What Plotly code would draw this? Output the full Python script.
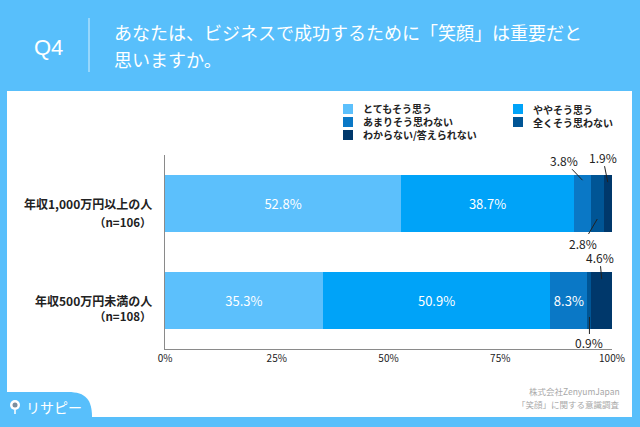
import plotly.graph_objects as go

# ---------------- data ----------------
categories = ["年収1,000万円以上の人", "年収500万円未満の人"]
sample_sizes = ["（n=106）", "（n=108）"]
series_names = ["とてもそう思う", "ややそう思う", "あまりそう思わない",
                "全くそう思わない", "わからない/答えられない"]
very_much = [52.8, 35.3]
somewhat = [38.7, 50.9]
not_much = [3.8, 8.3]
not_at_all = [2.8, 0.9]
unknown = [1.9, 4.6]
tick_values = [0, 25, 50, 75, 100]
tick_labels = ["0%", "25%", "50%", "75%", "100%"]

title_q = "Q4"
title_lines = ["あなたは、ビジネスで成功するために「笑顔」は重要だと", "思いますか。"]
source_lines = ["株式会社ZenyumJapan", "「笑顔」に関する意識調査"]
logo_text = "リサピー"

series_values = [very_much, somewhat, not_much, not_at_all, unknown]
colors = ["#5CC0FC", "#00A3F8", "#0A78C6", "#005595", "#00386B"]
BG = "#58BFFB"
FONT = "Noto Sans CJK JP"

# ---------------- geometry helpers ----------------
W, H = 640, 427
L, R, T, B = 165, 28, 155, 78
PW, PH = W - L - R, H - T - B


def xp(px):
    return (px - L) / PW


def yp(py):
    return (H - B - py) / PH


fig = go.Figure()
for name, vals, col in zip(series_names, series_values, colors):
    texts = [f"{v:.1f}%" if v >= 5 else "" for v in vals]
    fig.add_trace(go.Bar(
        y=categories, x=vals, name=name, orientation="h",
        marker=dict(color=col, line=dict(width=0)), width=0.59,
        text=texts, textposition="inside", insidetextanchor="middle",
        textangle=0, textfont=dict(color="white", size=13, family=FONT),
        hoverinfo="skip", showlegend=False,
    ))

shapes = []
annotations = []

# white panel
shapes.append(dict(type="rect", xref="paper", yref="paper", layer="below",
                   x0=xp(7), x1=xp(632), y0=yp(91), y1=yp(417),
                   fillcolor="white", line=dict(width=0)))

# header separator
shapes.append(dict(type="line", xref="paper", yref="paper",
                   x0=xp(89), x1=xp(89), y0=yp(18), y1=yp(72),
                   line=dict(color="rgba(255,255,255,0.75)", width=1)))

# header texts
annotations.append(dict(xref="paper", yref="paper", x=xp(48), y=yp(48),
                        text=title_q, showarrow=False, xanchor="center", yanchor="middle",
                        font=dict(family="Liberation Sans", size=22, color="white")))
for i, line in enumerate(title_lines):
    annotations.append(dict(xref="paper", yref="paper", x=xp(112), y=yp(32 + 27 * i),
                            text=line, showarrow=False, xanchor="left", yanchor="middle",
                            font=dict(family=FONT, size=18, color="white")))

# category labels
label_offsets = [(0.0, 0.19), (0.0, 0.16)]
for i, (cat, n) in enumerate(zip(categories, sample_sizes)):
    d1, d2 = label_offsets[i]
    annotations.append(dict(xref="paper", yref="y", x=xp(154), y=i + d1, text=f"<b>{cat}</b>",
                            showarrow=False, xanchor="right", yanchor="middle",
                            font=dict(family=FONT, size=12, color="#222")))
    annotations.append(dict(xref="paper", yref="y", x=xp(154), y=i + d2, text=f"<b>{n}</b>",
                            showarrow=False, xanchor="right", yanchor="middle",
                            font=dict(family=FONT, size=11.5, color="#222")))

# callouts for small segments: (row, series index, y offset, ax, ay)
callouts = [
    (0, 2, -0.24, -19, -20),
    (0, 4, -0.22, -5, -25),
    (0, 3, 0.16, -14, 24),
    (1, 4, -0.22, -2, -22),
    (1, 3, 0.17, 0, 26),
]
for row, si, dy, ax, ay in callouts:
    start = sum(series_values[k][row] for k in range(si))
    v = series_values[si][row]
    annotations.append(dict(xref="x", yref="y", x=start + v / 2, y=row + dy,
                            text=f"{v:.1f}%", showarrow=True, arrowhead=0, arrowwidth=1,
                            arrowcolor="#222", ax=ax, ay=ay, standoff=0, borderpad=0,
                            font=dict(family=FONT, size=12, color="#222")))

# manual legend (2 columns, items in row-major order)
col_x = [343, 513]
row_y0, row_step = 109, 13
for idx, (name, col) in enumerate(zip(series_names, colors)):
    c, r = idx % 2, idx // 2
    ly = row_y0 + row_step * r
    shapes.append(dict(type="rect", xref="paper", yref="paper",
                       x0=xp(col_x[c]), x1=xp(col_x[c] + 10), y0=yp(ly - 5), y1=yp(ly + 5),
                       fillcolor=col, line=dict(width=0)))
for c in range(2):
    names = series_names[c::2]
    center = row_y0 + row_step * (len(names) - 1) / 2
    annotations.append(dict(xref="paper", yref="paper", x=xp(col_x[c] + 18), y=yp(center),
                            text="<br>".join(f"<b>{n}</b>" for n in names),
                            showarrow=False, xanchor="left", yanchor="middle", align="left",
                            font=dict(family=FONT, size=10, color="#222")))

# source
for i, s in enumerate(source_lines):
    annotations.append(dict(xref="paper", yref="paper", x=xp(622), y=yp(391 + 13 * i),
                            text=s, showarrow=False, xanchor="right", yanchor="middle",
                            font=dict(family=FONT, size=8.5, color="#A8A8A8")))

# logo tab
path = (f"M {xp(0)},{yp(392)} L {xp(68)},{yp(392)} "
        f"C {xp(86)},{yp(392)} {xp(92)},{yp(400)} {xp(92)},{yp(417)} "
        f"L {xp(92)},{yp(427)} L {xp(0)},{yp(427)} Z")
shapes.append(dict(type="path", xref="paper", yref="paper", path=path,
                   fillcolor=BG, line=dict(width=0)))
shapes.append(dict(type="circle", xref="paper", yref="paper",
                   x0=xp(10), x1=xp(20), y0=yp(400), y1=yp(410),
                   fillcolor="white", line=dict(width=0)))
shapes.append(dict(type="circle", xref="paper", yref="paper",
                   x0=xp(12.5), x1=xp(17.5), y0=yp(402.5), y1=yp(407.5),
                   fillcolor="#7C8FA0", line=dict(width=0)))
shapes.append(dict(type="line", xref="paper", yref="paper",
                   x0=xp(15), x1=xp(15), y0=yp(410), y1=yp(414),
                   line=dict(color="white", width=1.5)))
annotations.append(dict(xref="paper", yref="paper", x=xp(24), y=yp(407),
                        text=logo_text, showarrow=False, xanchor="left", yanchor="middle",
                        font=dict(family=FONT, size=14, color="white")))

fig.update_layout(
    width=W, height=H,
    margin=dict(l=L, r=R, t=T, b=B, pad=0),
    paper_bgcolor=BG, plot_bgcolor="rgba(0,0,0,0)",
    barmode="stack", bargap=0.4,
    showlegend=False,
    font=dict(family=FONT, color="#222"),
    shapes=shapes, annotations=annotations,
    xaxis=dict(range=[0, 100], tickvals=tick_values, ticktext=tick_labels,
               showgrid=False, zeroline=False, showline=True, linecolor="#8A8A8A",
               linewidth=1, ticks="", tickfont=dict(family=FONT, size=10, color="#222"),
               fixedrange=True),
    yaxis=dict(range=[1.5, -0.5], showticklabels=False, showgrid=False, zeroline=False,
               showline=True, linecolor="#8A8A8A", linewidth=1, ticks="", fixedrange=True),
)

fig.write_html("out.html", config={"displayModeBar": False},
               post_script="document.body.style.margin='0';document.body.style.overflow='hidden';")
